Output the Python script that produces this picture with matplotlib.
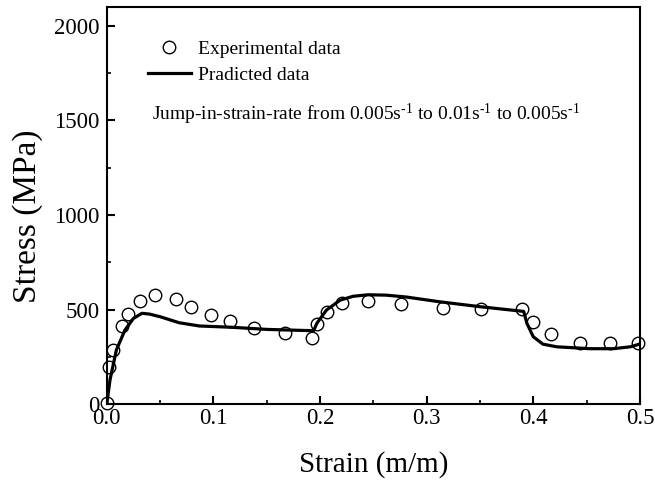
import matplotlib
matplotlib.use("Agg")
import matplotlib.pyplot as plt
from matplotlib.ticker import MultipleLocator

plt.rcParams['font.family'] = ['Liberation Serif', 'DejaVu Serif']
plt.rcParams['mathtext.fontset'] = 'custom'
plt.rcParams['mathtext.rm'] = 'Liberation Serif'
plt.rcParams['mathtext.it'] = 'Liberation Serif:italic'

# experimental points (strain, stress MPa)
exp_strain = [0.0, 0.002, 0.006, 0.014, 0.020, 0.031, 0.045, 0.065, 0.079, 0.098,
              0.116, 0.138, 0.167, 0.192, 0.197, 0.207, 0.221, 0.245, 0.276, 0.315,
              0.351, 0.389, 0.400, 0.417, 0.444, 0.472, 0.498]
exp_stress = [5, 194, 286, 413, 476, 547, 578, 554, 513, 473,
              438, 402, 374, 349, 423, 487, 533, 547, 529, 510,
              503, 501, 434, 369, 324, 324, 324]

# predicted curve
pred_strain = [0.0, 0.003, 0.009, 0.017, 0.025, 0.033, 0.040, 0.050, 0.068, 0.087,
               0.118, 0.150, 0.181, 0.194, 0.197, 0.206, 0.219, 0.231, 0.245, 0.262,
               0.281, 0.312, 0.350, 0.391, 0.394, 0.400, 0.409, 0.422, 0.453, 0.475,
               0.491, 0.500]
pred_stress = [0, 127, 286, 391, 453, 480, 476, 462, 430, 413,
               406, 395, 390, 388, 427, 497, 550, 570, 578, 576,
               566, 541, 515, 490, 427, 356, 317, 303, 293, 293,
               303, 318]

xticks = [0, 0.1, 0.2, 0.3, 0.4, 0.5]
xticklabels = ['0.0', '0.1', '0.2', '0.3', '0.4', '0.5']

fig = plt.figure(figsize=(6.55, 4.84), dpi=100)
ax = fig.add_axes([0.163, 0.165, 0.814, 0.821])

ax.plot(exp_strain, exp_stress, 'o', mfc='none', mec='black', ms=9, mew=1.0,
        label='Experimental data', clip_on=False, zorder=3)
ax.plot(pred_strain, pred_stress, '-', color='black', lw=2.3, label='Pradicted data')

ax.set_xlim(0, 0.5)
ax.set_ylim(0, 2100)
ax.set_xticks(xticks)
ax.set_xticklabels(xticklabels)
ax.xaxis.set_minor_locator(MultipleLocator(0.05))
ax.yaxis.set_major_locator(MultipleLocator(500))
ax.yaxis.set_minor_locator(MultipleLocator(250))

ax.tick_params(which='both', direction='in', labelsize=16.5, top=False, right=False)
ax.tick_params(which='major', length=6, width=1.5)
ax.tick_params(axis='x', which='major', pad=3)
ax.tick_params(axis='y', which='major', pad=5)
ax.tick_params(which='minor', length=3, width=1.2)
for s in ax.spines.values():
    s.set_linewidth(1.5)

ax.set_xlabel('Strain (m/m)', fontsize=21, labelpad=16)
ax.set_ylabel('Stress (MPa)', fontsize=24)
ax.yaxis.set_label_coords(-0.119, 0.474)

ax.legend(loc='upper left', bbox_to_anchor=(0.077, 0.915), frameon=False,
          fontsize=14, handlelength=2.2, handletextpad=0.4,
          borderpad=0, borderaxespad=0, labelspacing=0.4)

ax.text(0.085, 0.715,
        r'Jump-in-strain-rate from 0.005s$^{\mathrm{\text{-}1}}$ to 0.01s$^{\mathrm{\text{-}1}}$ to 0.005s$^{\mathrm{\text{-}1}}$',
        transform=ax.transAxes, fontsize=14)

fig.savefig('out.png', dpi=100)
